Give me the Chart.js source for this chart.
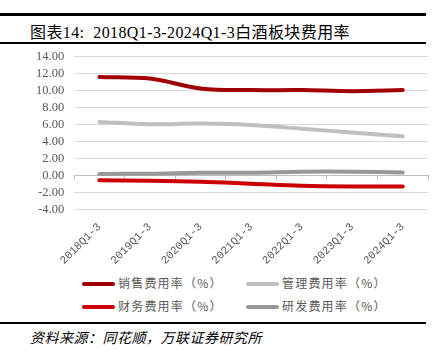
<!DOCTYPE html>
<html><head><meta charset="utf-8">
<script src="https://cdn.jsdelivr.net/npm/chart.js@4/dist/chart.umd.min.js"></script>
<style>
body{margin:0;width:437px;height:351px;background:#fff;position:relative;overflow:hidden;font-family:"Liberation Serif","Noto Sans CJK SC",serif;}
.hr{position:absolute;left:0;width:426px;background:#000;}
#title{position:absolute;left:30px;top:19px;font-size:16px;letter-spacing:0.4px;color:#000;white-space:nowrap;font-family:"Liberation Serif","Noto Sans CJK SC",serif;}
#src{position:absolute;left:30px;top:327px;font-size:14px;letter-spacing:0.5px;color:#000;font-style:italic;white-space:nowrap;font-family:"Noto Sans CJK SC",sans-serif;}
#wrap{position:absolute;left:0;top:39px;width:437px;height:231px;}
.lg{position:absolute;font-size:12px;color:#595959;white-space:nowrap;font-family:"Noto Sans CJK SC",sans-serif;line-height:14px;letter-spacing:1.2px;}
.lg i{display:inline-block;width:33px;height:4px;border-radius:2px;vertical-align:middle;margin-right:3px;position:relative;top:-1px;}
</style></head><body>
<div class="hr" style="top:13px;height:3px"></div>
<div id="title">图表14:&nbsp;&nbsp;2018Q1-3-2024Q1-3白酒板块费用率</div>
<div class="hr" style="top:42px;height:2px"></div>
<div id="wrap"><canvas id="c"></canvas></div>
<div id="legend"></div>
<div class="hr" style="top:322px;height:2px"></div>
<div id="src">资料来源：同花顺，万联证券研究所</div>
<script>
const categories = ["2018Q1-3","2019Q1-3","2020Q1-3","2021Q1-3","2022Q1-3","2023Q1-3","2024Q1-3"];
const salesRate   = [11.6, 11.4, 10.24, 10.04, 10.04, 9.92, 10.04];
const mgmtRate    = [6.3, 6.02, 6.1, 5.94, 5.5, 5.04, 4.6];
const financeRate = [-0.59, -0.63, -0.75, -0.98, -1.22, -1.3, -1.3];
const rdRate      = [0.16, 0.2, 0.31, 0.31, 0.43, 0.43, 0.35];
const seriesNames = ["销售费用率（%）","管理费用率（%）","财务费用率（%）","研发费用率（%）"];
const colors = ["#A00000","#BFBFBF","#CC0000","#999999"];
const yMin = -4, yMax = 14, yStep = 2;

const allData = [salesRate, mgmtRate, financeRate, rdRate];
const datasets = allData.map((d,i)=>({
  label: seriesNames[i], data: d, borderColor: colors[i], backgroundColor: colors[i],
  borderWidth: 4, pointRadius: 0, tension: 0.35, fill: false, borderCapStyle: 'round'
}));

// HTML legend (2 columns)
const lgPos = [[82,276],[246,276],[82,299],[246,299]];
const lgEl = document.getElementById('legend');
seriesNames.forEach((n,i)=>{
  const d = document.createElement('div'); d.className='lg';
  d.style.left = lgPos[i][0]+'px'; d.style.top = lgPos[i][1]+'px';
  d.innerHTML = '<i style="background:'+colors[i]+'"></i>'+n;
  lgEl.appendChild(d);
});

const tickFont = {family:"'Liberation Serif','Noto Sans CJK SC',serif", size:12.5};
new Chart(document.getElementById('c'), {
  type: 'line',
  data: { labels: categories, datasets },
  options: {
    responsive: true, maintainAspectRatio: false, animation: false,
    layout: { padding: { left: 26, right: 9, top: 0, bottom: 0 } },
    plugins: { legend: { display: false }, tooltip: { enabled: false } },
    scales: {
      x: {
        position: 'bottom', offset: true,
        grid: { display: false }, border: { display: false },
        ticks: { color: '#595959', font: {family:"'Liberation Mono',monospace", size:11}, minRotation: 45, maxRotation: 45, padding: 3, autoSkip: false }
      },
      x0: {
        type: 'category', position: { y: 0 }, offset: true,
        grid: { drawOnChartArea: false, drawTicks: true, tickLength: 4, offset: true, color: '#BFBFBF' },
        border: { display: true, color: '#BFBFBF', width: 1 },
        ticks: { display: false }
      },
      y: {
        min: yMin, max: yMax,
        ticks: { stepSize: yStep, color: '#595959', font: tickFont, padding: 10, autoSkip: false,
                 callback: v => Number(v).toFixed(2) },
        grid: { color: '#D9D9D9', drawTicks: false, lineWidth: 1 },
        border: { display: false }
      }
    }
  }
});
</script>
</body></html>
